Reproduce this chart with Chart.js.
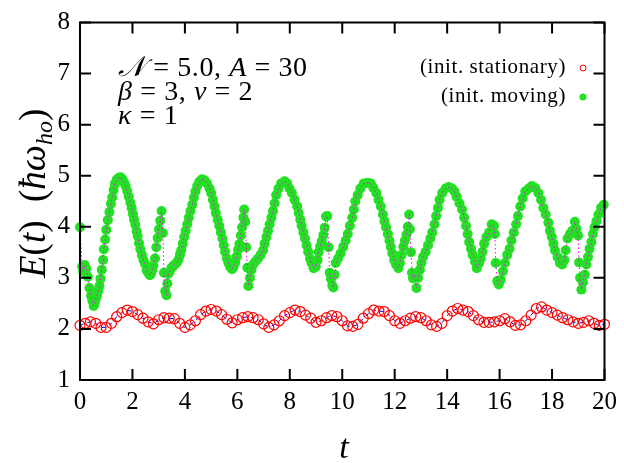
<!DOCTYPE html>
<html><head><meta charset="utf-8">
<script src="https://cdn.jsdelivr.net/npm/chart.js@4.4.0/dist/chart.umd.min.js"></script>
<style>html,body{margin:0;padding:0;background:#fff;overflow:hidden}canvas{display:block}</style>
</head><body>
<canvas id="c" width="624" height="463"></canvas>
<script>
// ---------- data ----------
const xTicks = [0, 2, 4, 6, 8, 10, 12, 14, 16, 18, 20];
const yTicks = [1, 2, 3, 4, 5, 6, 7, 8];

// (init. stationary) — red open circles, blue dashed line
const statT = [0.0,0.2,0.4,0.6,0.8,1.0,1.2,1.4,1.6,1.8,2.0,2.2,2.4,2.6,2.8,3.0,3.2,3.4,3.6,3.8,
  4.0,4.2,4.4,4.6,4.8,5.0,5.2,5.4,5.6,5.8,6.0,6.2,6.4,6.6,6.8,7.0,7.2,7.4,7.6,7.8,
  8.0,8.2,8.4,8.6,8.8,9.0,9.2,9.4,9.6,9.8,10.0,10.2,10.4,10.6,10.8,11.0,11.2,11.4,11.6,11.8,
  12.0,12.2,12.4,12.6,12.8,13.0,13.2,13.4,13.6,13.8,14.0,14.2,14.4,14.6,14.8,15.0,15.2,15.4,15.6,15.8,
  16.0,16.2,16.4,16.6,16.8,17.0,17.2,17.4,17.6,17.8,18.0,18.2,18.4,18.6,18.8,19.0,19.2,19.4,19.6,19.8,20.0];
const statE = [2.07,2.11,2.14,2.11,2.03,2.03,2.11,2.24,2.32,2.37,2.34,2.28,2.21,2.14,2.10,2.18,2.22,2.21,2.20,2.11,
  2.03,2.08,2.16,2.28,2.35,2.38,2.35,2.28,2.19,2.12,2.18,2.22,2.24,2.22,2.18,2.10,2.03,2.08,2.16,2.26,
  2.32,2.37,2.34,2.27,2.21,2.13,2.16,2.22,2.26,2.24,2.16,2.06,2.05,2.09,2.21,2.30,2.37,2.35,2.34,2.26,
  2.16,2.11,2.16,2.21,2.24,2.22,2.16,2.08,2.05,2.11,2.26,2.35,2.40,2.37,2.34,2.26,2.18,2.13,2.13,2.14,
  2.16,2.20,2.14,2.07,2.08,2.16,2.27,2.40,2.43,2.37,2.32,2.27,2.22,2.18,2.14,2.11,2.13,2.16,2.11,2.07,2.09];

// (init. moving) — green filled dots, magenta dotted line
const movT = [0.00,0.08,0.12,0.18,0.24,0.30,0.36,0.42,0.47,0.52,0.56,0.60,0.65,0.70,0.74,0.78,0.83,0.88,0.91,0.96,
  1.00,1.06,1.12,1.18,1.23,1.28,1.33,1.40,1.48,1.55,1.62,1.68,1.74,1.80,1.86,1.92,1.97,2.02,2.06,2.11,
  2.16,2.20,2.25,2.30,2.36,2.42,2.48,2.54,2.60,2.66,2.70,2.75,2.80,2.86,2.91,2.96,3.01,3.06,3.11,3.16,
  3.20,3.25,3.30,3.33,3.37,3.42,3.48,3.55,3.62,3.70,3.76,3.81,3.86,3.92,3.97,4.03,4.09,4.15,4.21,4.28,
  4.34,4.40,4.47,4.55,4.65,4.75,4.84,4.94,5.00,5.07,5.13,5.18,5.25,5.31,5.37,5.43,5.48,5.53,5.60,5.66,
  5.72,5.80,5.86,5.92,5.98,6.03,6.08,6.13,6.18,6.23,6.26,6.30,6.34,6.38,6.42,6.48,6.54,6.60,6.69,6.79,
  6.89,6.98,7.04,7.11,7.17,7.23,7.30,7.36,7.42,7.48,7.57,7.67,7.80,7.90,7.99,8.08,8.18,8.28,8.34,8.40,
  8.45,8.52,8.58,8.64,8.70,8.77,8.83,8.91,8.99,9.06,9.10,9.16,9.22,9.28,9.33,9.38,9.43,9.48,9.52,9.57,
  9.62,9.66,9.71,9.75,9.84,9.94,10.04,10.13,10.21,10.29,10.38,10.44,10.50,10.59,10.69,10.82,10.97,11.09,11.19,11.30,
  11.38,11.47,11.55,11.61,11.67,11.74,11.80,11.85,11.91,11.98,12.05,12.14,12.20,12.26,12.33,12.39,12.45,12.50,12.55,12.58,
  12.62,12.66,12.70,12.76,12.83,12.89,12.96,13.02,13.08,13.18,13.27,13.36,13.43,13.52,13.58,13.65,13.71,13.81,13.94,14.06,
  14.19,14.28,14.36,14.47,14.57,14.65,14.72,14.78,14.84,14.91,14.97,15.06,15.13,15.22,15.28,15.35,15.41,15.50,15.60,15.70,
  15.79,15.82,15.85,15.91,15.97,16.04,16.13,16.20,16.29,16.38,16.45,16.54,16.63,16.70,16.79,16.88,16.98,17.11,17.23,17.36,
  17.48,17.58,17.67,17.76,17.86,17.92,17.99,18.05,18.11,18.21,18.30,18.39,18.47,18.52,18.59,18.68,18.77,18.87,18.93,18.99,
  19.03,19.07,19.12,19.18,19.25,19.31,19.37,19.43,19.50,19.56,19.62,19.69,19.77,19.87,19.97];
const movE = [3.99,3.22,3.12,3.25,3.18,3.02,2.80,2.65,2.55,2.45,2.50,2.58,2.66,2.75,2.84,2.98,3.16,3.35,3.56,3.75,
  3.94,4.13,4.29,4.45,4.58,4.72,4.84,4.92,4.96,4.97,4.93,4.87,4.80,4.70,4.59,4.47,4.37,4.25,4.14,4.04,
  3.91,3.82,3.68,3.56,3.45,3.35,3.27,3.15,3.10,3.05,3.07,3.15,3.24,3.38,3.60,3.78,3.95,4.12,4.31,3.88,
  3.10,2.74,2.66,2.89,3.08,3.12,3.19,3.23,3.26,3.30,3.36,3.45,3.54,3.67,3.80,3.92,4.05,4.18,4.31,4.43,
  4.57,4.69,4.80,4.88,4.93,4.91,4.85,4.75,4.66,4.53,4.40,4.27,4.14,4.02,3.89,3.77,3.64,3.51,3.38,3.29,
  3.22,3.17,3.22,3.30,3.42,3.55,3.66,3.83,3.99,4.18,4.34,4.10,3.60,3.20,2.84,3.00,3.16,3.26,3.32,3.38,
  3.45,3.54,3.67,3.80,3.92,4.05,4.18,4.31,4.46,4.62,4.75,4.85,4.89,4.85,4.75,4.66,4.53,4.40,4.27,4.14,
  4.02,3.89,3.77,3.64,3.51,3.38,3.29,3.19,3.22,3.35,3.50,3.62,3.72,3.84,3.98,4.20,4.21,3.60,3.10,2.98,
  2.85,2.81,3.06,3.29,3.38,3.48,3.61,3.73,3.86,4.02,4.18,4.34,4.50,4.62,4.75,4.85,4.86,4.85,4.76,4.66,
  4.53,4.40,4.24,4.11,3.99,3.86,3.73,3.61,3.48,3.35,3.26,3.19,3.29,3.45,3.61,3.73,3.85,4.00,4.24,3.95,
  3.50,3.10,2.99,3.05,2.80,3.00,3.16,3.29,3.41,3.51,3.64,3.77,3.89,4.05,4.21,4.37,4.53,4.66,4.75,4.78,
  4.75,4.69,4.59,4.46,4.34,4.18,4.02,3.86,3.70,3.57,3.45,3.32,3.19,3.29,3.38,3.51,3.67,3.80,3.89,4.05,
  4.02,3.86,3.29,2.94,2.87,2.96,3.13,3.29,3.45,3.57,3.73,3.89,4.05,4.21,4.40,4.56,4.69,4.75,4.80,4.76,
  4.66,4.53,4.37,4.24,4.08,3.92,3.80,3.67,3.54,3.41,3.29,3.26,3.35,3.54,3.77,3.86,3.92,4.10,3.96,3.83,
  3.30,3.00,2.77,2.91,3.06,3.26,3.41,3.57,3.70,3.86,3.99,4.11,4.24,4.37,4.43];

// ---------- styles ----------
const SERIF = '"Liberation Serif", "DejaVu Serif", serif';
const RED = '#ff0000', BLUE = '#0000ff', GREEN = '#22e022', MAGENTA = '#ff00ff';

const statData = statT.map((t, i) => ({x: t, y: statE[i]}));
const movData = movT.map((t, i) => ({x: t, y: movE[i]}));

function drawSegs(ctx, x, y, segs) {
  let cx = x;
  for (const s of segs) {
    ctx.font = s.f;
    ctx.fillText(s.t, cx, y + (s.dy || 0));
    cx += ctx.measureText(s.t).width;
  }
  return cx;
}

const framePlugin = {
  id: 'frame',
  afterDraw(chart) {
    const {ctx, chartArea: a, scales: {x, y}} = chart;
    ctx.save();
    ctx.strokeStyle = '#000';
    ctx.lineWidth = 2;
    ctx.strokeRect(a.left, a.top, a.right - a.left, a.bottom - a.top);
    const tl = 11;
    ctx.beginPath();
    for (const v of xTicks) {
      const px = x.getPixelForValue(v);
      ctx.moveTo(px, a.bottom); ctx.lineTo(px, a.bottom - tl);
      ctx.moveTo(px, a.top); ctx.lineTo(px, a.top + tl);
    }
    for (const v of yTicks) {
      const py = y.getPixelForValue(v);
      ctx.moveTo(a.left, py); ctx.lineTo(a.left + tl, py);
      ctx.moveTo(a.right, py); ctx.lineTo(a.right - tl, py);
    }
    ctx.stroke();

    ctx.fillStyle = '#000';
    ctx.textBaseline = 'alphabetic';
    // annotation
    const it = 'italic 28px ' + SERIF, rm = '28px ' + SERIF;
    ctx.letterSpacing = '0.6px';
    drawSegs(ctx, 118, 76, [{t: '\u{1D4A9}', f: it}, {t: ' = 5.0, ', f: rm}, {t: 'A', f: it}, {t: ' = 30', f: rm}]);
    drawSegs(ctx, 118, 100, [{t: 'β', f: it}, {t: ' = 3, ', f: rm}, {t: 'v', f: it}, {t: ' = 2', f: rm}]);
    drawSegs(ctx, 118, 124, [{t: 'κ', f: it}, {t: ' = 1', f: rm}]);

    // legend
    ctx.font = '21px ' + SERIF;
    ctx.letterSpacing = '0.6px';
    ctx.textAlign = 'right';
    ctx.textBaseline = 'middle';
    ctx.fillText('(init. stationary)', 566, 67);
    ctx.fillText('(init. moving)', 566, 96);
    ctx.letterSpacing = '0px';
    ctx.textAlign = 'left';
    ctx.lineWidth = 1;
    ctx.strokeStyle = RED;
    ctx.beginPath(); ctx.arc(583, 68, 3, 0, Math.PI * 2); ctx.stroke();
    ctx.fillStyle = GREEN;
    ctx.beginPath(); ctx.arc(583, 97, 3.5, 0, Math.PI * 2); ctx.fill();

    // axis titles
    ctx.fillStyle = '#000';
    ctx.textBaseline = 'alphabetic';
    ctx.font = 'italic 34px ' + SERIF;
    ctx.textAlign = 'center';
    ctx.fillText('t', 344, 458);
    ctx.textAlign = 'left';
    // y title rotated
    const big = 'italic 37px ' + SERIF, brm = '37px ' + SERIF, sub = 'italic 24px ' + SERIF;
    const segs = [{t: 'E', f: big}, {t: '(', f: brm}, {t: 't', f: big}, {t: ')  (', f: brm},
                  {t: 'ħω', f: big}, {t: 'ho', f: sub, dy: 7}, {t: ')', f: brm}];
    ctx.translate(45, 278);
    ctx.rotate(-Math.PI / 2);
    drawSegs(ctx, 0, 0, segs);
    ctx.restore();
  }
};

new Chart(document.getElementById('c'), {
  type: 'scatter',
  data: {
    datasets: [
      {label: '(init. stationary)', data: statData, showLine: true, borderColor: BLUE, borderWidth: 1,
       borderDash: [4, 4], pointRadius: 5, pointHoverRadius: 5, pointBorderColor: RED, pointBorderWidth: 1.2,
       pointBackgroundColor: 'rgba(0,0,0,0)', order: 3, clip: false},
      {label: 'moving pts', data: movData, showLine: false, pointRadius: 5, pointHoverRadius: 5,
       pointBackgroundColor: GREEN, pointBorderColor: GREEN, pointBorderWidth: 0, order: 2, clip: false},
      {label: 'moving line', data: movData, showLine: true, borderColor: MAGENTA, borderWidth: 1,
       borderDash: [1.5, 2.5], pointRadius: 0, order: 1, clip: false}
    ]
  },
  options: {
    responsive: false,
    animation: false,
    devicePixelRatio: 1,
    layout: {padding: {top: 13, right: 14, left: 0, bottom: 0}},
    plugins: {legend: {display: false}, tooltip: {enabled: false}},
    elements: {line: {tension: 0}},
    scales: {
      x: {type: 'linear', min: 0, max: 20,
          afterBuildTicks: s => { s.ticks = xTicks.map(v => ({value: v})); },
          afterFit: s => { s.height = 83; },
          grid: {display: false, drawTicks: false}, border: {display: false},
          ticks: {font: {family: SERIF, size: 25}, color: '#000', padding: 7, maxRotation: 0}},
      y: {type: 'linear', min: 1, max: 8,
          afterBuildTicks: s => { s.ticks = yTicks.map(v => ({value: v})); },
          afterFit: s => { s.width = 80; },
          grid: {display: false, drawTicks: false}, border: {display: false},
          ticks: {font: {family: SERIF, size: 25, lineHeight: 1}, color: '#000', padding: 10}}
    }
  },
  plugins: [framePlugin]
});
</script>
</body></html>
